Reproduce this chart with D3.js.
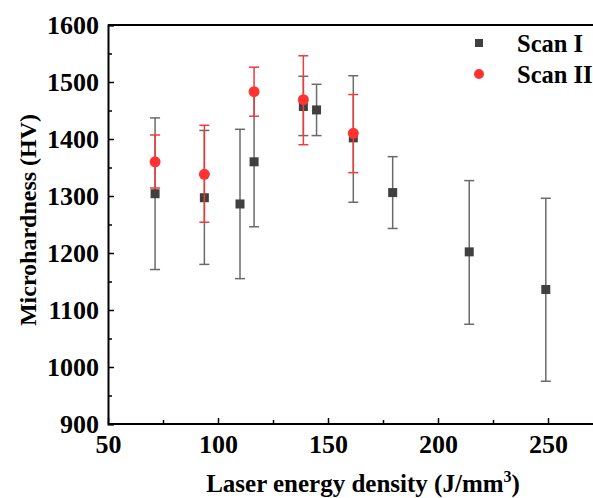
<!DOCTYPE html>
<html><head><meta charset="utf-8">
<script src="https://cdn.jsdelivr.net/npm/d3@7"></script>
<style>body{margin:0;background:#fff}svg{display:block}text{font-family:"Liberation Serif","Times New Roman",serif;font-weight:bold}</style>
</head><body><svg id="c" width="593" height="498"></svg>
<script>
const scan1X   = [71.4, 93.8, 110, 116.4, 138.8, 144.8, 161.5, 179.4, 214.2, 249];
const scan1Y   = [1304, 1297, 1286, 1360, 1457, 1451, 1402, 1306, 1202, 1136];
const scan1Top = [1437, 1415, 1417, 1481, 1510, 1496, 1511, 1369, 1327, 1296];
const scan1Bot = [1171, 1180, 1155, 1246, 1406, 1406, 1289, 1243, 1075, 975];
const scan2X   = [71.4, 93.8, 116.4, 138.8, 161.5];
const scan2Y   = [1360, 1338, 1483, 1469, 1410];
const scan2Top = [1407, 1424, 1526, 1546, 1478];
const scan2Bot = [1314, 1254, 1440, 1390, 1341];
const xTicks = [50, 100, 150, 200, 250];
const yTicks = [900, 1000, 1100, 1200, 1300, 1400, 1500, 1600];
const seriesNames = ["Scan I", "Scan II"];

const svg = d3.select("#c");
const L = 108, R = 603, T = 25, B = 424;
const x = d3.scaleLinear().domain([50, 275]).range([L, R]);
const y = d3.scaleLinear().domain([900, 1600]).range([B, T]);

// frame top
svg.append("line").attr("x1", L).attr("x2", 593).attr("y1", T).attr("y2", T).attr("stroke", "#000").attr("stroke-width", 2);

// x axis
const xAxis = svg.append("g").attr("transform", `translate(0,${B})`)
  .call(d3.axisBottom(x).tickValues(xTicks).tickSize(-6).tickPadding(14).tickFormat(d3.format("d")));
xAxis.select(".domain").attr("stroke-width", 2).attr("d", `M${L},0H593`);
xAxis.selectAll(".tick line").attr("stroke-width", 1.5);
xAxis.selectAll(".tick text").attr("font-size", 26).attr("fill", "#000").attr("dy", "0").attr("y", 29);
svg.append("g").attr("transform", `translate(0,${B})`)
  .call(d3.axisBottom(x).tickValues([75, 125, 175, 225, 275]).tickSize(-4).tickFormat(""))
  .call(g => g.select(".domain").remove()).selectAll("line").attr("stroke-width", 1.5);

// y axis
const yAxis = svg.append("g").attr("transform", `translate(${L},0)`)
  .call(d3.axisLeft(y).tickValues(yTicks).tickSize(-6).tickPadding(8).tickFormat(d3.format("d")));
yAxis.select(".domain").attr("stroke-width", 2);
yAxis.selectAll(".tick line").attr("stroke-width", 1.5);
yAxis.selectAll(".tick text").attr("font-size", 26).attr("fill", "#000").attr("x", -9).attr("dy", "0.34em");
svg.append("g").attr("transform", `translate(${L},0)`)
  .call(d3.axisLeft(y).tickValues([950, 1050, 1150, 1250, 1350, 1450, 1550]).tickSize(-4).tickFormat(""))
  .call(g => g.select(".domain").remove()).selectAll("line").attr("stroke-width", 1.5);

// error bars + markers
function errorBars(xs, top, bot, color) {
  const g = svg.append("g").attr("stroke", color).attr("stroke-width", 1.5).attr("fill", "none");
  xs.forEach((v, i) => {
    g.append("line").attr("x1", x(v)).attr("x2", x(v)).attr("y1", y(top[i])).attr("y2", y(bot[i]));
    g.append("line").attr("x1", x(v) - 5).attr("x2", x(v) + 5).attr("y1", y(top[i])).attr("y2", y(top[i]));
    g.append("line").attr("x1", x(v) - 5).attr("x2", x(v) + 5).attr("y1", y(bot[i])).attr("y2", y(bot[i]));
  });
}
errorBars(scan1X, scan1Top, scan1Bot, "#6a6a6a");
svg.append("g").selectAll("rect").data(scan1X).join("rect")
  .attr("x", d => x(d) - 4.5).attr("y", (d, i) => y(scan1Y[i]) - 4.5)
  .attr("width", 9).attr("height", 9).attr("fill", "#404040");
errorBars(scan2X, scan2Top, scan2Bot, "#ee3b3b");
svg.append("g").selectAll("circle").data(scan2X).join("circle")
  .attr("cx", d => x(d)).attr("cy", (d, i) => y(scan2Y[i])).attr("r", 5.5).attr("fill", "#ff3333");

// legend
svg.append("rect").attr("x", 475).attr("y", 39).attr("width", 8).attr("height", 8).attr("fill", "#404040");
svg.append("circle").attr("cx", 479).attr("cy", 74).attr("r", 5).attr("fill", "#ff3333");
svg.append("text").attr("x", 517).attr("y", 52).attr("font-size", 24.5).text(seriesNames[0]);
svg.append("text").attr("x", 517).attr("y", 83).attr("font-size", 24.5).text(seriesNames[1]);

// titles
svg.append("text").attr("transform", "translate(36,220) rotate(-90)").attr("text-anchor", "middle")
  .attr("font-size", 24).text("Microhardness (HV)");
const xt = svg.append("text").attr("x", 363).attr("y", 492).attr("text-anchor", "middle").attr("font-size", 25);
xt.append("tspan").text("Laser energy density (J/mm");
xt.append("tspan").attr("font-size", 16).attr("dy", -10).text("3");
xt.append("tspan").attr("dy", 10).text(")");
</script></body></html>
